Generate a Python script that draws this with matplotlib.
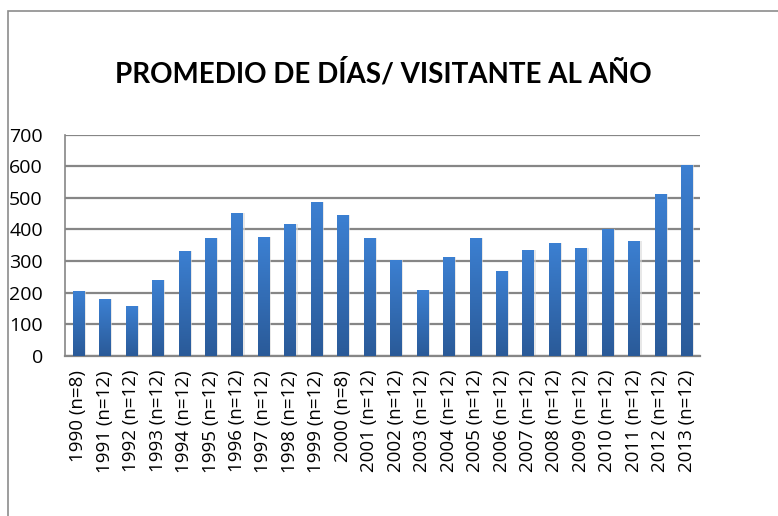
import matplotlib
matplotlib.use("Agg")
import matplotlib.pyplot as plt
import numpy as np
from matplotlib.patches import Rectangle
from matplotlib.colors import LinearSegmentedColormap

years = ["1990 (n=8)", "1991 (n=12)", "1992 (n=12)", "1993 (n=12)", "1994 (n=12)",
         "1995 (n=12)", "1996 (n=12)", "1997 (n=12)", "1998 (n=12)", "1999 (n=12)",
         "2000 (n=8)", "2001 (n=12)", "2002 (n=12)", "2003 (n=12)", "2004 (n=12)",
         "2005 (n=12)", "2006 (n=12)", "2007 (n=12)", "2008 (n=12)", "2009 (n=12)",
         "2010 (n=12)", "2011 (n=12)", "2012 (n=12)", "2013 (n=12)"]
days = [205, 180, 158, 240, 332, 373, 452, 376, 417, 487,
        446, 373, 304, 209, 313, 373, 269, 335, 357, 342,
        400, 364, 512, 604]
yticks = [0, 100, 200, 300, 400, 500, 600, 700]

plt.rcParams["font.family"] = ["Open Sans", "DejaVu Sans"]

W, H = 778, 516
fig = plt.figure(figsize=(W / 100, H / 100), dpi=100)

# chart frame (cropped at right/bottom like the screenshot)
fig.patches.append(Rectangle((8 / W, -0.1), 1.0, 1 - 11 / H + 0.1,
                             transform=fig.transFigure, fill=False,
                             edgecolor="#8c8c8c", linewidth=1.2))

ax = fig.add_axes([65 / W, 1 - 356 / H, 635 / W, (356 - 134.5) / H])

x = np.arange(len(years))
width = 0.42

# faint shadow behind bars
ax.bar(x + 0.08, days, width=width, color="#d9d9d9", alpha=0.6, zorder=2)
bars = ax.bar(x, days, width=width, color="#3a7bcc", zorder=3)

cmap = LinearSegmentedColormap.from_list("blu", ["#2a5a98", "#3c80d2"])
grad = np.linspace(0, 1, 256).reshape(-1, 1)
for b in bars:
    bx, by = b.get_x(), b.get_y()
    im = ax.imshow(grad, cmap=cmap, origin="lower", aspect="auto",
                   extent=[bx, bx + b.get_width(), by, by + b.get_height()],
                   zorder=4)
    im.set_clip_path(b)

ax.set_xlim(-0.5, len(years) - 0.5)
ax.set_ylim(0, 700)
ax.set_yticks(yticks)
ax.yaxis.grid(True, color="#868686", linewidth=1.6, zorder=1)
ax.set_axisbelow(True)
for s in ["top", "right"]:
    ax.spines[s].set_visible(False)
ax.spines["left"].set_color("#868686")
ax.spines["bottom"].set_color("#868686")
ax.spines["left"].set_linewidth(1.2)
ax.spines["bottom"].set_linewidth(1.6)
ax.tick_params(axis="y", length=0, labelsize=14, pad=16)
ax.tick_params(axis="x", length=0, labelsize=13.5, pad=10)
ax.set_xticks(x)
ax.set_xticklabels(years, rotation=90, va="top", ha="center")

fig.text(383 / W, 1 - 73 / H, "PROMEDIO DE DÍAS/ VISITANTE AL AÑO",
         ha="center", va="center", fontsize=20, fontweight="bold",
         family=["Lato", "DejaVu Sans"])

fig.savefig("out.png", dpi=100)
